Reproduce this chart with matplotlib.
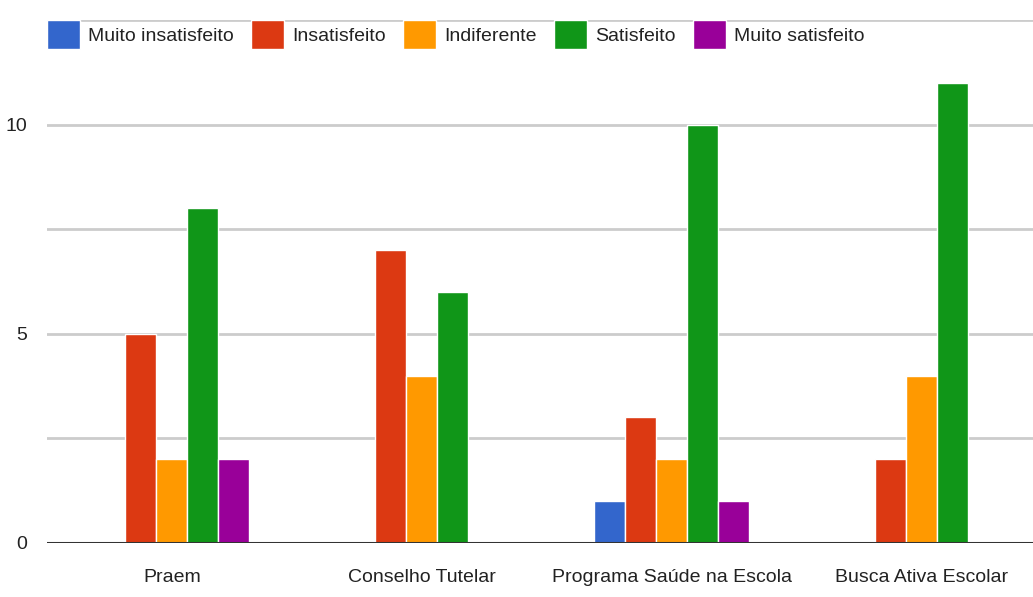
import numpy as np
import matplotlib.pyplot as plt

categories = ['Praem', 'Conselho Tutelar', 'Programa Saúde na Escola', 'Busca Ativa Escolar']
series = ['Muito insatisfeito', 'Insatisfeito', 'Indiferente', 'Satisfeito', 'Muito satisfeito']
colors = ['#3366cc', '#dc3912', '#ff9900', '#109618', '#990099']

muito_insatisfeito = [0, 0, 1, 0]
insatisfeito = [5, 7, 3, 2]
indiferente = [2, 4, 2, 4]
satisfeito = [8, 6, 10, 11]
muito_satisfeito = [2, 0, 1, 0]
values = [muito_insatisfeito, insatisfeito, indiferente, satisfeito, muito_satisfeito]

plt.rcParams['font.family'] = ['Liberation Sans', 'DejaVu Sans']
text_color = '#222222'
fs = 14

fig = plt.figure(figsize=(10.33, 5.97), dpi=100)
ax = fig.add_axes([0.0455, 0.0905, 0.9545, 0.876])

x = np.arange(len(categories))
w = 0.124
for i, (name, vals) in enumerate(zip(series, values)):
    ax.bar(x + (i - 2) * w, vals, width=w, color=colors[i], edgecolor='white',
           linewidth=1, label=name, zorder=3)

ax.set_xlim(-0.5, 3.446)
ax.set_ylim(0, 12.5)
ax.set_yticks([0, 5, 10])
ax.set_yticks([2.5, 7.5, 12.5], minor=True)
ax.yaxis.grid(True, which='both', color='#cccccc', linewidth=2, zorder=0)
ax.axhline(0, color='#333333', linewidth=2.2, zorder=4)
ax.set_xticks(x)
ax.set_xticklabels(categories)
ax.tick_params(axis='both', which='both', length=0, labelsize=fs, labelcolor=text_color)
ax.tick_params(axis='y', pad=14)
ax.tick_params(axis='x', pad=19)
for s in ax.spines.values():
    s.set_visible(False)

leg = ax.legend(loc='center left', bbox_to_anchor=(0.0, 0.972), ncol=5, frameon=False,
                fontsize=fs, handlelength=1.7, handleheight=1.9, handletextpad=0.4,
                columnspacing=0.9, borderaxespad=0, borderpad=0)
for t in leg.get_texts():
    t.set_color(text_color)

fig.savefig('out.png', dpi=100)
